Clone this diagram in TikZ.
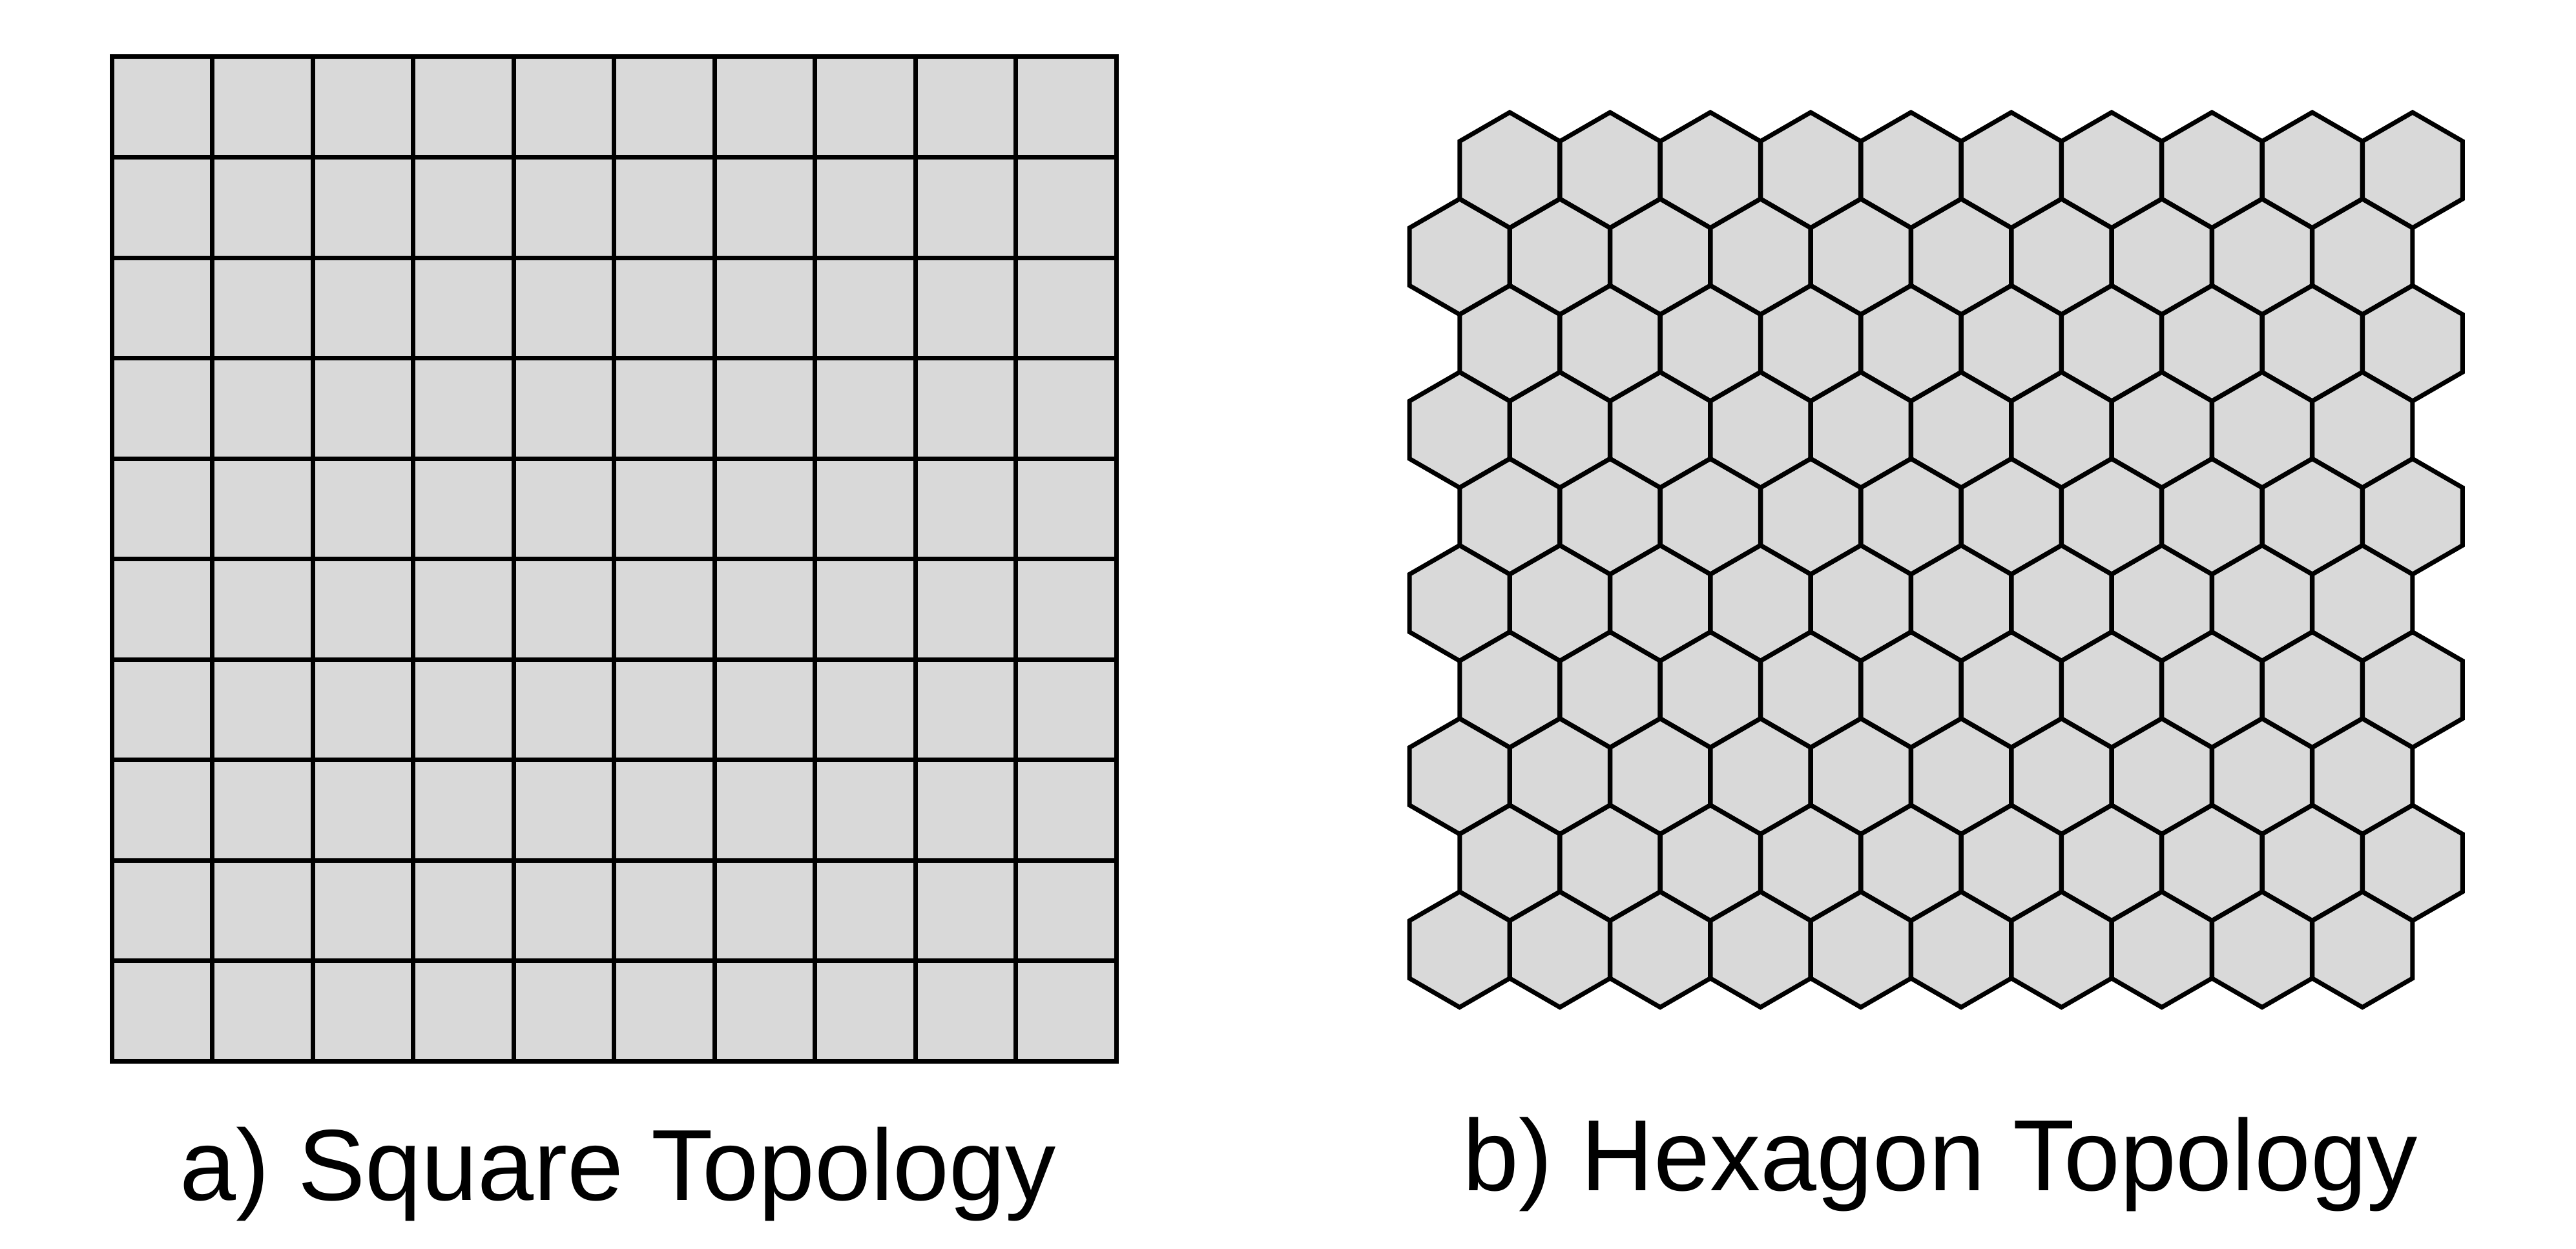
\documentclass[tikz,border=0pt]{standalone}
\usepackage{fontspec}
\setmainfont{Liberation Sans}
\usepackage{tikz}
\usetikzlibrary{calc}
\definecolor{cellgray}{RGB}{217,217,217}

\begin{document}
\begin{tikzpicture}[
  grid_line/.style={line width=0.07cm, black},
  hex_cell/.style={fill=cellgray, draw=black, line width=0.07cm},
  caption_text/.style={font=\fontsize{44.5}{54}\selectfont, anchor=base}
]
\useasboundingbox (0,0) rectangle (39.88,19.33);

% Square Topology (10 x 10 grid)
\begin{scope}[shift={(1.73,2.895)}]
  \def\side{1.5555}
  \fill[cellgray] (0,0) rectangle (10*\side,10*\side);
  \foreach \i in {1,...,9}{
    \draw[grid_line] (\i*\side,0) -- (\i*\side,10*\side);
    \draw[grid_line] (0,\i*\side) -- (10*\side,\i*\side);
  }
  \draw[grid_line] (0,0) rectangle (10*\side,10*\side);
  \node[caption_text] (sqlabel) at (7.84,-2.145) {a) Square Topology};
\end{scope}

% Hexagon Topology (10 rows, pointy top, even rows shifted right)
\begin{scope}[shift={(22.596,16.696)}]
  \def\hexr{0.894}
  \def\hexw{1.553}
  \foreach \r in {0,...,9}{
    \foreach \c in {0,...,9}{
      \pgfmathsetmacro\hx{\c*\hexw + (1-mod(\r,2))*\hexw/2}
      \pgfmathsetmacro\hy{-1.5*\hexr*\r}
      \draw[hex_cell, shift={(\hx,\hy)}] (30:\hexr) -- (90:\hexr) -- (150:\hexr)
        -- (210:\hexr) -- (270:\hexr) -- (330:\hexr) -- cycle;
    }
  }
\end{scope}
\node[caption_text] (hexlabel) at (30.04,0.90) {b) Hexagon Topology};

\end{tikzpicture}
\end{document}
